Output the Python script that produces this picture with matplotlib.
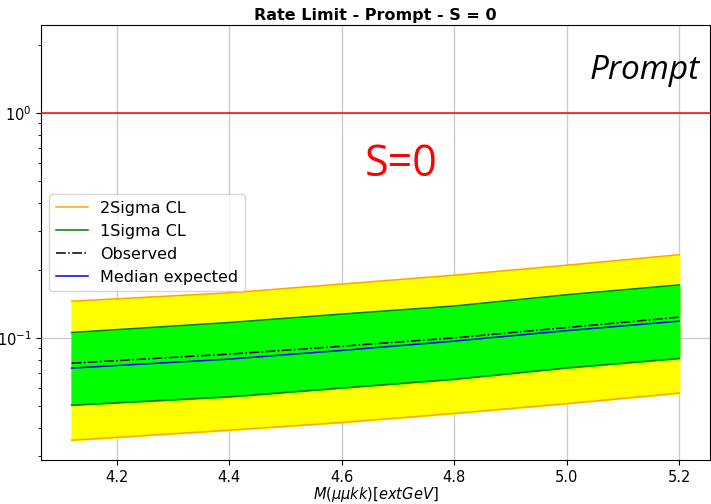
import matplotlib
matplotlib.use("Agg")
import matplotlib.pyplot as plt

# Mass points (GeV) and rate limits
mass = [4.12, 4.4, 4.6, 4.8, 5.0, 5.2]
two_sigma_up = [0.146, 0.159, 0.174, 0.1905, 0.211, 0.235]
one_sigma_up = [0.106, 0.1174, 0.128, 0.139, 0.156, 0.1725]
observed = [0.0774, 0.0849, 0.0921, 0.1003, 0.1115, 0.124]
median = [0.0736, 0.0807, 0.0882, 0.0970, 0.108, 0.119]
one_sigma_dn = [0.0504, 0.0549, 0.0601, 0.0657, 0.0738, 0.0813]
two_sigma_dn = [0.0352, 0.039, 0.0422, 0.0463, 0.0512, 0.0570]

fig = plt.figure(figsize=(7.11, 5.04), dpi=100)
ax = fig.add_axes([0.058, 0.087, 0.940, 0.863])

ax.fill_between(mass, two_sigma_dn, two_sigma_up, color="yellow", zorder=1)
ax.fill_between(mass, one_sigma_dn, one_sigma_up, color="lime", zorder=2)
ax.plot(mass, two_sigma_up, color="orange", lw=1.1, label="2Sigma CL", zorder=3)
ax.plot(mass, two_sigma_dn, color="orange", lw=1.1, zorder=3)
ax.plot(mass, one_sigma_up, color="green", lw=1.1, label="1Sigma CL", zorder=3)
ax.plot(mass, one_sigma_dn, color="green", lw=1.1, zorder=3)
ax.plot(mass, observed, color="black", ls="-.", lw=1.1, label="Observed", zorder=4)
ax.plot(mass, median, color="blue", lw=1.1, label="Median expected", zorder=4)
ax.axhline(1.0, color="red", lw=1.1, zorder=4)

ax.set_yscale("log")
ax.set_ylim(0.0287, 2.46)
ax.grid(True, which="major", color="#cccccc", lw=1)
ax.set_axisbelow(True)
ax.tick_params(labelsize=10.5)

ax.set_title("Rate Limit - Prompt - S = 0", fontsize=11.5, fontweight="bold", pad=4)
ax.set_xlabel(r"$M(\mu\mu kk)[extGeV]$", fontsize=10.5, labelpad=0)

ax.text(0.985, 0.895, "Prompt", transform=ax.transAxes, ha="right", va="center",
        fontsize=24, style="italic", family="Open Sans")
ax.text(0.538, 0.68, "S=0", transform=ax.transAxes, ha="center", va="center",
        fontsize=31, color="red", family="Open Sans")

ax.legend(loc="center left", fontsize=11.5)

fig.savefig("out.png", dpi=100)
